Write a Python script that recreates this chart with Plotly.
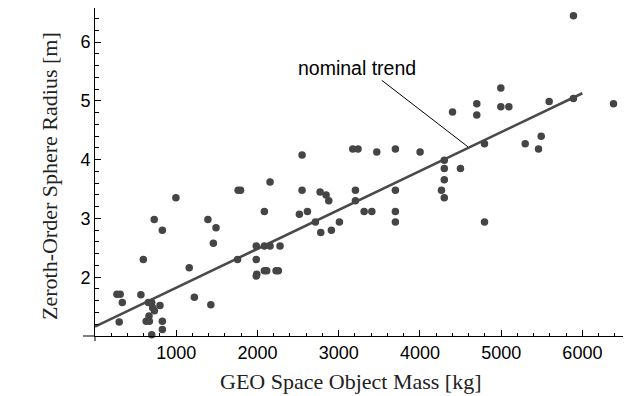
import plotly.graph_objects as go

# --- data ---
mass_kg = [
    270, 310, 336, 298, 565, 595, 729, 829, 996,
    657, 698, 710, 731, 800, 665, 630, 669, 829, 829, 698,
    1160, 1223, 1390, 1490, 1457, 1426, 1762, 1792, 1755,
    1985, 1985, 1985, 1992,
    2085, 2155, 2085, 2155, 2278, 2085, 2114, 2229, 2257,
    2549, 2549, 2771, 2845, 2878, 2516, 2615, 2713, 2779, 2910, 3009,
    3173, 3238, 3469, 3698, 4002, 3206, 3206, 3313, 3408, 3698, 3698, 3698,
    4300, 4300, 4300, 4265, 4300, 4499,
    5890, 4996, 4700, 4700, 4996, 5095, 4401, 5591, 5890, 6383,
    4795, 5296, 5493, 5460, 4795,
]
radius_m = [
    1.71, 1.71, 1.57, 1.24, 1.70, 2.30, 2.98, 2.80, 3.35,
    1.57, 1.57, 1.48, 1.43, 1.52, 1.34, 1.25, 1.25, 1.25, 1.11, 1.02,
    2.16, 1.66, 2.98, 2.84, 2.58, 1.53, 3.48, 3.48, 2.30,
    2.53, 2.30, 2.02, 2.05,
    3.12, 3.62, 2.53, 2.53, 2.53, 2.11, 2.11, 2.11, 2.11,
    4.08, 3.48, 3.45, 3.40, 3.30, 3.07, 3.12, 2.94, 2.76, 2.80, 2.94,
    4.18, 4.18, 4.13, 4.18, 4.13, 3.48, 3.30, 3.12, 3.12, 3.48, 3.12, 2.94,
    3.99, 3.85, 3.66, 3.48, 3.35, 3.85,
    6.45, 5.22, 4.95, 4.76, 4.90, 4.90, 4.81, 4.99, 5.04, 4.95,
    4.27, 4.27, 4.40, 4.18, 2.94,
]

trend_x = [0, 6000]
trend_y = [1.16, 5.13]

callout_x = [3530, 4590]
callout_y = [5.35, 4.22]
callout_label = "nominal trend"
label_x, label_y = 3220, 5.56

x_ticks = [1000, 2000, 3000, 4000, 5000, 6000]
x_minor = [v for v in range(200, 6500, 200) if v % 1000 != 0]
y_ticks = [2, 3, 4, 5, 6]
y_minor = [round(1 + 0.2 * i, 1) for i in range(1, 28) if (i % 5) != 0]

x_title = "GEO Space Object Mass [kg]"
y_title = "Zeroth-Order Sphere Radius [m]"

W, H = 627, 396
ML, MR, MT, MB = 95, 4, 8, 60
PW, PH = W - ML - MR, H - MT - MB

fig = go.Figure()
fig.add_trace(go.Scatter(
    x=trend_x, y=trend_y, mode="lines",
    line=dict(color="#4a4a4a", width=2.6), hoverinfo="skip", cliponaxis=False,
))
fig.add_trace(go.Scatter(
    x=mass_kg, y=radius_m, mode="markers",
    marker=dict(color="#454545", size=7.5, line=dict(width=0)),
    cliponaxis=False,
))
fig.add_trace(go.Scatter(
    x=callout_x, y=callout_y, mode="lines",
    line=dict(color="black", width=1), hoverinfo="skip",
))

tickfont = dict(family="Liberation Sans, Arial, sans-serif", size=18, color="black")
serif = dict(family="Liberation Serif, Times New Roman, serif", size=22, color="#222222")

fig.update_layout(
    width=W, height=H,
    margin=dict(l=ML, r=MR, t=MT, b=MB),
    paper_bgcolor="white", plot_bgcolor="white",
    showlegend=False,
    xaxis=dict(
        range=[0, 6500], showgrid=False, zeroline=False,
        showline=True, linecolor="black", linewidth=1,
        tickmode="array", tickvals=x_ticks, ticks="inside", ticklen=6,
        tickcolor="black", tickwidth=1, tickfont=tickfont,
        minor=dict(tickmode="array", tickvals=x_minor, ticks="inside",
                   ticklen=3, tickcolor="black", tickwidth=1),
    ),
    yaxis=dict(
        range=[1, 6.58], showgrid=False, zeroline=False,
        showline=True, linecolor="black", linewidth=1,
        tickmode="array", tickvals=y_ticks, ticks="inside", ticklen=6,
        tickcolor="black", tickwidth=1, tickfont=tickfont,
        minor=dict(tickmode="array", tickvals=y_minor, ticks="inside",
                   ticklen=3.5, tickcolor="black", tickwidth=1),
    ),
    annotations=[
        dict(x=label_x, y=label_y, xref="x", yref="y", text=callout_label,
             showarrow=False, font=dict(family="Liberation Sans, Arial, sans-serif",
                                        size=19.5, color="black")),
        dict(x=(351 - ML) / PW, y=(MT + PH - 381) / PH, xref="paper", yref="paper",
             text=x_title, showarrow=False, font=serif, yanchor="middle"),
        dict(x=(49 - ML) / PW, y=(MT + PH - 176) / PH, xref="paper", yref="paper",
             text=y_title, showarrow=False, font=serif, textangle=-90,
             xanchor="center", yanchor="middle"),
    ],
    shapes=[
        dict(type="line", xref="paper", yref="paper", x0=-12 / PW, x1=0, y0=0, y1=0,
             line=dict(color="black", width=1)),
        dict(type="line", xref="paper", yref="paper", x0=0, x1=0, y0=-5 / PH, y1=0,
             line=dict(color="black", width=1)),
    ],
)

fig.write_html("out.html")
